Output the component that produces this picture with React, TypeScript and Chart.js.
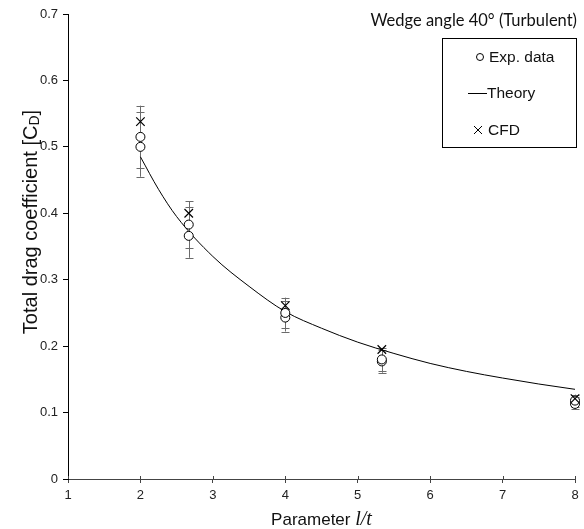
import React, { useEffect, useRef } from "react";
import { Chart, registerables } from "chart.js";
Chart.register(...registerables);

// ---- data ----
const xPositions = [2, 2.667, 4, 5.333, 8];
const expA = [0.515, 0.383, 0.25, 0.18, 0.118];
const expB = [0.5, 0.366, 0.243, 0.177, 0.113];
const expALow = [0.468, 0.348, 0.228, 0.163, 0.108];
const expAHigh = [0.562, 0.418, 0.273, 0.197, 0.127];
const expBLow = [0.455, 0.333, 0.222, 0.16, 0.105];
const expBHigh = [0.552, 0.41, 0.268, 0.194, 0.124];
const cfdValues = [0.538, 0.4, 0.261, 0.195, 0.121];
const theoryX = [2, 2.25, 2.5, 3, 3.5, 4, 4.5, 5, 5.5, 6, 6.5, 7, 7.5, 8];
const theoryY = [0.485, 0.436, 0.395, 0.335, 0.29, 0.252, 0.227, 0.206, 0.189, 0.174, 0.162, 0.152, 0.143, 0.135];
const xTickLabels = ["1", "2", "3", "4", "5", "6", "7", "8"];
const yTickLabels = ["0", "0.1", "0.2", "0.3", "0.4", "0.5", "0.6", "0.7"];
const chartTitle = "Wedge angle 40° (Turbulent)";
const legendLabels = ["Exp. data", "Theory", "CFD"];

const SANS = "'Liberation Sans', Arial, sans-serif";

const decorPlugin = {
  id: "decor",
  beforeDatasetsDraw(chart: any) {
    const ctx = chart.ctx;
    const xs = chart.scales.x;
    const ys = chart.scales.y;
    ctx.save();
    // x tick marks crossing the axis (upper half)
    ctx.strokeStyle = "#444";
    ctx.lineWidth = 1;
    const axisY = chart.chartArea.bottom;
    xTickLabels.forEach((t) => {
      const px = Math.round(xs.getPixelForValue(Number(t))) + 0.5;
      ctx.beginPath();
      ctx.moveTo(px, axisY - 3);
      ctx.lineTo(px, axisY);
      ctx.stroke();
    });
    ctx.strokeStyle = "#6b6b6b";
    const drawBar = (x: number, lo: number, hi: number) => {
      const px = Math.round(xs.getPixelForValue(x)) + 0.5;
      const pLo = ys.getPixelForValue(lo);
      const pHi = ys.getPixelForValue(hi);
      ctx.beginPath();
      ctx.moveTo(px, pLo);
      ctx.lineTo(px, pHi);
      ctx.moveTo(px - 4, Math.round(pLo) + 0.5);
      ctx.lineTo(px + 4, Math.round(pLo) + 0.5);
      ctx.moveTo(px - 4, Math.round(pHi) + 0.5);
      ctx.lineTo(px + 4, Math.round(pHi) + 0.5);
      ctx.stroke();
    };
    xPositions.forEach((x, i) => {
      drawBar(x, expALow[i], expAHigh[i]);
      drawBar(x, expBLow[i], expBHigh[i]);
    });
    ctx.restore();
  },
  afterDraw(chart: any) {
    const ctx = chart.ctx;
    const area = chart.chartArea;
    ctx.save();
    ctx.fillStyle = "#111";
    // y title with subscript
    const yMain = "Total drag coefficient [C";
    const ySub = "D";
    const yEnd = "]";
    const big = 20;
    const small = 14;
    ctx.translate(30, 222);
    ctx.rotate(-Math.PI / 2);
    ctx.font = `${big}px ${SANS}`;
    const w1 = ctx.measureText(yMain).width;
    const w3 = ctx.measureText(yEnd).width;
    ctx.font = `${small}px ${SANS}`;
    const w2 = ctx.measureText(ySub).width;
    const total = w1 + w2 + w3;
    let cx = -total / 2;
    ctx.textBaseline = "alphabetic";
    ctx.textAlign = "left";
    ctx.font = `${big}px ${SANS}`;
    ctx.fillText(yMain, cx, 7);
    cx += w1;
    ctx.font = `${small}px ${SANS}`;
    ctx.fillText(ySub, cx, 9);
    cx += w2;
    ctx.font = `${big}px ${SANS}`;
    ctx.fillText(yEnd, cx, 7);
    ctx.restore();

    // x title
    ctx.save();
    ctx.fillStyle = "#111";
    const xa = "Parameter ";
    const xb = "l/t";
    ctx.font = `17px ${SANS}`;
    const wa = ctx.measureText(xa).width;
    ctx.font = `italic 20px 'Liberation Serif', 'Times New Roman', serif`;
    const wb = ctx.measureText(xb).width;
    const cxm = (area.left + area.right) / 2;
    let sx = cxm - (wa + wb) / 2;
    ctx.textBaseline = "alphabetic";
    ctx.font = `17px ${SANS}`;
    ctx.fillText(xa, sx, 525);
    ctx.font = `italic 20px 'Liberation Serif', 'Times New Roman', serif`;
    ctx.fillText(xb, sx + wa, 525);

    // chart title
    ctx.font = `16.5px Lato, 'Open Sans', sans-serif`;
    ctx.textAlign = "right";
    ctx.fillText(chartTitle, 577, 26);

    // legend box
    ctx.strokeStyle = "#000";
    ctx.lineWidth = 1;
    ctx.strokeRect(442.5, 38.5, 134, 109);
    ctx.textAlign = "left";
    ctx.textBaseline = "middle";
    ctx.font = `15.5px ${SANS}`;
    // circle
    ctx.beginPath();
    ctx.arc(480, 57, 3.5, 0, Math.PI * 2);
    ctx.fillStyle = "#fff";
    ctx.fill();
    ctx.stroke();
    ctx.fillStyle = "#111";
    ctx.fillText(legendLabels[0], 489, 58);
    // line
    ctx.beginPath();
    ctx.moveTo(468, 93.5);
    ctx.lineTo(487, 93.5);
    ctx.stroke();
    ctx.fillText(legendLabels[1], 487, 94);
    // cross
    ctx.beginPath();
    ctx.moveTo(474, 126);
    ctx.lineTo(482, 134);
    ctx.moveTo(482, 126);
    ctx.lineTo(474, 134);
    ctx.stroke();
    ctx.fillText(legendLabels[2], 488, 131);
    ctx.restore();
  },
};

export default function App() {
  const canvasRef = useRef<HTMLCanvasElement | null>(null);
  useEffect(() => {
    const canvas = canvasRef.current;
    if (!canvas) return;
    const chart = new Chart(canvas, {
      type: "scatter",
      data: {
        datasets: [
          {
            type: "line",
            label: legendLabels[1],
            data: theoryX.map((x, i) => ({ x, y: theoryY[i] })),
            borderColor: "#000",
            borderWidth: 1,
            pointRadius: 0,
            cubicInterpolationMode: "monotone",
            fill: false,
            order: 3,
          } as any,
          {
            label: legendLabels[0],
            data: xPositions.map((x, i) => ({ x, y: expA[i] })),
            pointStyle: "circle",
            pointRadius: 4.5,
            backgroundColor: "#fff",
            borderColor: "#000",
            borderWidth: 1,
            clip: false,
            order: 1,
          } as any,
          {
            label: legendLabels[0] + " 2",
            data: xPositions.map((x, i) => ({ x, y: expB[i] })),
            pointStyle: "circle",
            pointRadius: 4.5,
            backgroundColor: "#fff",
            borderColor: "#000",
            borderWidth: 1,
            clip: false,
            order: 1,
          } as any,
          {
            label: legendLabels[2],
            data: xPositions.map((x, i) => ({ x, y: cfdValues[i] })),
            pointStyle: "crossRot",
            pointRadius: 6,
            borderColor: "#000",
            borderWidth: 1.2,
            clip: false,
            order: 0,
          } as any,
        ],
      },
      options: {
        animation: false,
        responsive: false,
        devicePixelRatio: 1,
        layout: { padding: { top: 14, right: 9, left: 0, bottom: 0 } },
        plugins: { legend: { display: false }, tooltip: { enabled: false } },
        scales: {
          x: {
            type: "linear",
            min: 1,
            max: 8,
            afterFit: (s: any) => {
              s.height = 50;
            },
            afterBuildTicks: (s: any) => {
              s.ticks = xTickLabels.map((t) => ({ value: Number(t) }));
            },
            ticks: {
              callback: (v: any, i: number) => xTickLabels[i],
              color: "#222",
              font: { family: SANS, size: 13 },
              padding: 5,
              maxRotation: 0,
            },
            grid: {
              drawOnChartArea: false,
              drawTicks: true,
              tickLength: 4,
              color: "#444",
            },
            border: { color: "#444", width: 1 },
          },
          y: {
            type: "linear",
            min: 0,
            max: 0.7,
            afterFit: (s: any) => {
              s.width = 68;
            },
            afterBuildTicks: (s: any) => {
              s.ticks = yTickLabels.map((t) => ({ value: Number(t) }));
            },
            ticks: {
              callback: (v: any, i: number) => yTickLabels[i],
              color: "#222",
              font: { family: SANS, size: 13 },
              padding: 5,
            },
            grid: {
              drawOnChartArea: false,
              drawTicks: true,
              tickLength: 5,
              color: "#000",
            },
            border: { color: "#000", width: 1 },
          },
        },
      },
      plugins: [decorPlugin],
    });
    return () => chart.destroy();
  }, []);
  return (
    <div style={{ position: "fixed", left: 0, top: 0, width: 584, height: 529, background: "#fff" }}>
      <canvas ref={canvasRef} width={584} height={529} style={{ display: "block" }} />
    </div>
  );
}
